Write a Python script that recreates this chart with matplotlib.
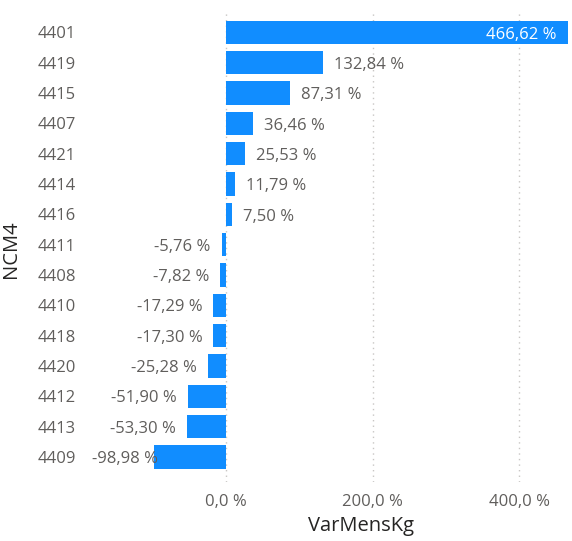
import matplotlib
matplotlib.use("Agg")
import matplotlib.pyplot as plt
import numpy as np

categories = ["4401", "4419", "4415", "4407", "4421", "4414", "4416", "4411",
              "4408", "4410", "4418", "4420", "4412", "4413", "4409"]
values = [466.62, 132.84, 87.31, 36.46, 25.53, 11.79, 7.50, -5.76,
          -7.82, -17.29, -17.30, -25.28, -51.90, -53.30, -98.98]
xticks = [0, 200, 400]
xtick_labels = ["0,0 %", "200,0 %", "400,0 %"]

plt.rcParams['font.family'] = ['Open Sans', 'DejaVu Sans']

W, H = 572, 541
fig = plt.figure(figsize=(W / 100, H / 100), dpi=100)
ax_left, ax_right, ax_top, ax_bottom = 153.5, 568, 10, 482
ax_w = ax_right - ax_left
ax = fig.add_axes([ax_left / W, 1 - ax_bottom / H, ax_w / W, (ax_bottom - ax_top) / H])

bar_color = "#118DFF"
text_color = "#605E5C"
fs = 12
y = np.arange(len(categories))
ax.barh(y, values, height=0.77, color=bar_color, zorder=3)

xmin, xmax = min(values), max(values)
ax.set_xlim(xmin, xmax)
ax.set_ylim(len(categories) - 1 + 0.83, -0.74)

px_per_unit = ax_w / (xmax - xmin)
px = 0.72  # points per pixel
dy = -2.2 * px

for yi, v in zip(y, values):
    lab = f"{v:.2f}".replace(".", ",") + " %"
    if v == xmax:
        ax.annotate(lab, (v, yi), xytext=(-11 * px, dy), textcoords="offset points",
                    ha="right", va="center", color="white", fontsize=fs, zorder=4)
    elif v >= 0:
        ax.annotate(lab, (v, yi), xytext=(11 * px, dy), textcoords="offset points",
                    ha="left", va="center", color=text_color, fontsize=fs, zorder=4)
    else:
        xpos = v - 11 / px_per_unit
        if xpos < xmin:
            xpos = xmin + 4 / px_per_unit
        ax.annotate(lab, (xpos, yi), xytext=(0, dy), textcoords="offset points",
                    ha="right", va="center", color=text_color, fontsize=fs,
                    zorder=4, annotation_clip=False)

ax.set_yticks(y)
ax.set_yticklabels(categories, fontsize=fs, color=text_color)
ax.set_xticks(xticks)
ax.set_xticklabels(xtick_labels, fontsize=fs, color=text_color)
ax.tick_params(axis="y", length=0, pad=(ax_left - 76) * 0.72)
ax.tick_params(axis="x", length=0, pad=9)

ax.grid(axis="x", color="#C8C6C4", linestyle=(0, (1, 3)), linewidth=1, zorder=0)
ax.grid(axis="y", visible=False)
for s in ax.spines.values():
    s.set_visible(False)

ax.set_xlabel("VarMensKg", fontsize=14.5, color="#252423", labelpad=4)
ax.set_ylabel("NCM4", fontsize=14.5, color="#252423")
ax.yaxis.set_label_coords((21 - ax_left) / ax_w, 0.494)

fig.savefig("out.png", dpi=100)
